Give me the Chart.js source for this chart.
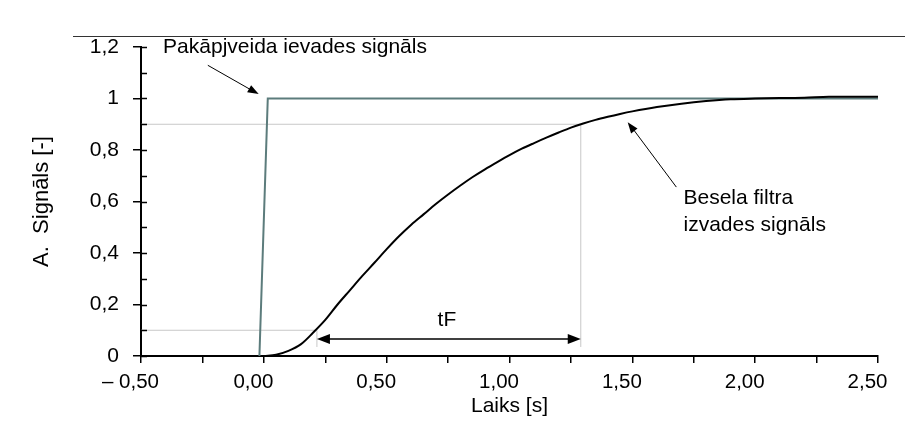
<!DOCTYPE html>
<html><head><meta charset="utf-8">
<script src="https://cdn.jsdelivr.net/npm/chart.js@4.4.1/dist/chart.umd.min.js"></script>
<style>
html,body{margin:0;padding:0;background:#fff;}
#wrap{position:relative;width:905px;height:423px;overflow:hidden;}
#sep{position:absolute;left:73px;top:36px;width:832px;height:0;border-top:1px solid #333;}
canvas{position:absolute;left:0;top:0;}
</style></head><body>
<div id="wrap"><canvas id="c" width="905" height="423"></canvas><div id="sep"></div></div>
<script>
// ---- data ----
const timeOut   = [0.00,0.05,0.10,0.15,0.20,0.25,0.30,0.35,0.40,0.45,0.50,0.55,0.60,0.65,0.70,0.75,0.80,0.85,0.90,0.95,1.00,1.05,1.10,1.15,1.20,1.25,1.30,1.35,1.40,1.45,1.50,1.60,1.70,1.80,1.90,2.00,2.10,2.20,2.30,2.40,2.51];
const signalOut = [0,0.005,0.02,0.045,0.09,0.14,0.20,0.255,0.31,0.362,0.415,0.465,0.51,0.55,0.59,0.627,0.662,0.695,0.725,0.753,0.78,0.805,0.827,0.848,0.868,0.887,0.903,0.917,0.929,0.94,0.95,0.967,0.98,0.99,0.997,1.0,1.002,1.003,1.007,1.007,1.007];
const timeStep   = [-0.018, 0.016, 2.51];
const signalStep = [0, 1, 1];
const xTickLabels = ['\u2013 0,50','0,00','0,50','1,00','1,50','2,00','2,50'];
const yTickLabels = ['0','0,2','0,4','0,6','0,8','1','1,2'];
const riseLow = 0.1, riseHigh = 0.9, tLow = 0.216, tHigh = 1.29;

const FONT = "'Liberation Sans', Arial, sans-serif";

function arrowHead(ctx, x1, y1, x2, y2, len, wid) {
  const a = Math.atan2(y2 - y1, x2 - x1);
  ctx.beginPath();
  ctx.moveTo(x2, y2);
  ctx.lineTo(x2 - len * Math.cos(a) + wid / 2 * Math.sin(a), y2 - len * Math.sin(a) - wid / 2 * Math.cos(a));
  ctx.lineTo(x2 - len * Math.cos(a) - wid / 2 * Math.sin(a), y2 - len * Math.sin(a) + wid / 2 * Math.cos(a));
  ctx.closePath();
  ctx.fill();
}

const deco = {
  id: 'deco',
  beforeDatasetsDraw(chart) {
    const {ctx, scales: {x, y}} = chart;
    ctx.save();
    ctx.strokeStyle = '#c8c8c8';
    ctx.lineWidth = 1;
    const yb = y.getPixelForValue(0.035);
    ctx.beginPath();
    ctx.moveTo(x.left, y.getPixelForValue(riseHigh));
    ctx.lineTo(x.getPixelForValue(tHigh), y.getPixelForValue(riseHigh));
    ctx.lineTo(x.getPixelForValue(tHigh), yb);
    ctx.moveTo(x.left, y.getPixelForValue(riseLow));
    ctx.lineTo(x.getPixelForValue(tLow), y.getPixelForValue(riseLow));
    ctx.lineTo(x.getPixelForValue(tLow), yb);
    ctx.stroke();
    ctx.restore();
  },
  afterDraw(chart) {
    const {ctx, scales: {x, y}} = chart;
    ctx.save();
    // inner y ticks
    ctx.strokeStyle = '#000';
    ctx.lineWidth = 1.5;
    ctx.beginPath();
    for (let i = 0; i <= 12; i++) {
      const py = Math.round(y.getPixelForValue(i / 10)) + 0.5;
      ctx.moveTo(x.left, py);
      ctx.lineTo(x.left + 6, py);
    }
    ctx.stroke();
    // tF arrow
    const ay = y.getPixelForValue(0.066);
    const ax1 = x.getPixelForValue(tLow), ax2 = x.getPixelForValue(tHigh);
    ctx.fillStyle = '#000';
    ctx.lineWidth = 1.6;
    ctx.beginPath();
    ctx.moveTo(ax1 + 8, ay); ctx.lineTo(ax2 - 8, ay); ctx.stroke();
    arrowHead(ctx, ax2, ay, ax1, ay, 13, 10);
    arrowHead(ctx, ax1, ay, ax2, ay, 13, 10);
    // annotation arrows
    ctx.lineWidth = 1;
    const p1 = [x.getPixelForValue(-0.228), y.getPixelForValue(1.129)];
    const p2 = [x.getPixelForValue(-0.021), y.getPixelForValue(1.017)];
    ctx.beginPath(); ctx.moveTo(p1[0], p1[1]); ctx.lineTo(p2[0] - 6, p2[1] - 3.3); ctx.stroke();
    arrowHead(ctx, p1[0], p1[1], p2[0], p2[1], 11, 8);
    const q1 = [x.getPixelForValue(1.679), y.getPixelForValue(0.656)];
    const q2 = [x.getPixelForValue(1.481), y.getPixelForValue(0.908)];
    ctx.beginPath(); ctx.moveTo(q1[0], q1[1]); ctx.lineTo(q2[0] + 4, q2[1] + 5); ctx.stroke();
    arrowHead(ctx, q1[0], q1[1], q2[0], q2[1], 11, 8);
    // texts
    ctx.fillStyle = '#000';
    ctx.font = '21px ' + FONT;
    ctx.textBaseline = 'middle';
    ctx.textAlign = 'left';
    ctx.fillText('Pakāpjveida ievades signāls', x.getPixelForValue(-0.41), y.getPixelForValue(1.199));
    ctx.fillText('Besela filtra', x.getPixelForValue(1.708), 198);
    ctx.fillText('izvades signāls', x.getPixelForValue(1.708), 225);
    ctx.textAlign = 'center';
    ctx.fillText('tF', x.getPixelForValue(0.745), y.getPixelForValue(0.14));
    ctx.restore();
  }
};

new Chart(document.getElementById('c'), {
  type: 'line',
  data: {
    datasets: [
      { label: 'Besela filtra izvades signāls', data: timeOut.map((t, i) => ({x: t, y: signalOut[i]})),
        borderColor: '#000', borderWidth: 2, pointRadius: 0, cubicInterpolationMode: 'monotone', fill: false },
      { label: 'Pakāpjveida ievades signāls', data: timeStep.map((t, i) => ({x: t, y: signalStep[i]})),
        borderColor: '#5c7c7c', borderWidth: 2, pointRadius: 0, tension: 0, fill: false }
    ]
  },
  options: {
    responsive: false,
    animation: false,
    devicePixelRatio: 1,
    layout: { padding: { left: 0, right: 24, top: 47, bottom: 0 } },
    plugins: { legend: { display: false }, tooltip: { enabled: false } },
    scales: {
      x: {
        type: 'linear', min: -0.5, max: 2.5,
        afterFit(s) { s.height = 67; },
        border: { color: '#000', width: 2 },
        grid: { drawOnChartArea: false, drawTicks: true, tickLength: 7, color: '#000', lineWidth: 1.5 },
        ticks: {
          stepSize: 0.25, autoSkip: false, maxRotation: 0, padding: 7, labelOffset: -10.5,
          color: '#000', font: { family: FONT, size: 20.5 },
          callback(v) { const k = Math.round(v * 4); return (k % 2 === 0) ? xTickLabels[(k + 2) / 2] : ''; }
        },
        title: { display: true, text: 'Laiks [s]', color: '#000', font: { family: FONT, size: 21 }, padding: { top: 0, bottom: 4 } }
      },
      y: {
        type: 'linear', min: 0, max: 1.2,
        afterFit(s) { s.width = 141; },
        border: { color: '#000', width: 2 },
        grid: { drawOnChartArea: false, drawTicks: true, tickLength: 8, color: '#000', lineWidth: 1.5 },
        ticks: {
          stepSize: 0.2, padding: 14, color: '#000', font: { family: FONT, size: 21 },
          callback(v, i) { return yTickLabels[i]; }
        },
        title: { display: true, text: 'A.  Signāls [-]', color: '#000', font: { family: FONT, size: 22 }, padding: { top: 29, bottom: 0 } }
      }
    }
  },
  plugins: [deco]
});
</script>
</body></html>
